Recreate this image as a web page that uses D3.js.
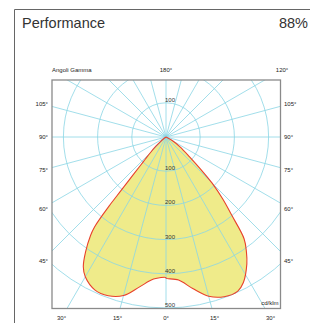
<!DOCTYPE html>
<html>
<head>
<meta charset="utf-8">
<script src="https://cdn.jsdelivr.net/npm/d3@7"></script>
<style>
  body { margin: 0; background: #fff; }
  svg { display: block; font-family: "Liberation Sans", Arial, sans-serif; }
</style>
</head>
<body>
<div id="chart"></div>
<script>
// polar data, gamma angle (deg from nadir) -> cd/klm
var gammaLeft = [0, 5, 10, 15, 20, 25, 30, 32.5, 35, 37.5, 38.5, 39.5, 40, 41, 42, 43, 45, 47.5, 50, 55, 90];
var cdLeft    = [411, 417, 445, 480, 494, 493, 472, 450, 410, 362, 335, 262, 205, 145, 112, 90, 64, 40, 22, 4, 0];
var gammaRight = [0, 5, 10, 15, 20, 25, 28, 32.5, 35, 37.5, 40, 42.5, 45, 47.5, 50, 55, 60, 70, 90];
var cdRight    = [413, 420, 450, 482, 497, 497, 482, 440, 410, 375, 300, 245, 190, 130, 90, 50, 22, 0, 0];

var rings = [100, 200, 300, 400, 500];
var ringLabelsBelow = [100, 200, 300, 400, 500];
var ringLabelsAbove = [100];
var leftGammaLabels = [15, 30, 45, 60, 75, 90, 105];
var rightGammaLabels = [0, 15, 30, 45, 60, 75, 90, 105, 120, 180];

var svgWidth = 310, svgHeight = 323;
var cx = 166, cy = 137;

var svg = d3.select("#chart").append("svg")
  .attr("width", svgWidth)
  .attr("height", svgHeight);

// outer frame
svg.append("path")
  .attr("d", "M14.5,323V9.5H310")
  .attr("fill", "none")
  .attr("stroke", "#666")
  .attr("stroke-width", 1);

svg.append("text")
  .attr("x", 22).attr("y", 28)
  .attr("font-size", 14.5)
  .attr("fill", "#333")
  .text("Performance");

svg.append("text")
  .attr("x", 308).attr("y", 28)
  .attr("text-anchor", "end")
  .attr("font-size", 14.5)
  .attr("fill", "#333")
  .text("88%");

var r = d3.scaleLinear().domain([0, 500]).range([0, 171]);

var box = { left: cx - 114, right: cx + 114.5, top: cy - 57, bottom: cy + r(500) + 0.5 };

svg.append("clipPath").attr("id", "plotClip")
  .append("rect")
  .attr("x", box.left).attr("y", box.top)
  .attr("width", box.right - box.left).attr("height", box.bottom - box.top);

svg.append("rect")
  .attr("x", box.left).attr("y", box.top)
  .attr("width", box.right - box.left).attr("height", box.bottom - box.top)
  .attr("fill", "#fff");

var plot = svg.append("g")
  .attr("clip-path", "url(#plotClip)");

var center = plot.append("g")
  .attr("transform", `translate(${cx},${cy})`);

// curve: left half from 90 down to 0, then right half 0 up to 90
var rad = Math.PI / 180;
var pts = [];
for (var i = gammaLeft.length - 1; i >= 0; i--) {
  pts.push({ a: Math.PI + gammaLeft[i] * rad, v: cdLeft[i] });
}
for (var j = 0; j < gammaRight.length; j++) {
  pts.push({ a: Math.PI - gammaRight[j] * rad, v: cdRight[j] });
}

var radial = d3.lineRadial()
  .angle(d => d.a)
  .radius(d => r(d.v))
  .curve(d3.curveCatmullRom.alpha(0.5));

center.append("path")
  .attr("d", radial(pts) + "Z")
  .attr("fill", "#efeb8a")
  .attr("stroke", "none");

// grid
var gridColor = "#8ad5e4";
center.selectAll(".ring")
  .data(rings)
  .enter()
  .append("circle")
  .attr("r", d => r(d))
  .attr("fill", "none")
  .attr("stroke", gridColor)
  .attr("stroke-width", 0.8);

center.selectAll(".spoke")
  .data(d3.range(0, 360, 15))
  .enter()
  .append("line")
  .attr("x1", 0).attr("y1", 0)
  .attr("x2", d => 400 * Math.sin(d * rad))
  .attr("y2", d => 400 * Math.cos(d * rad))
  .attr("stroke", gridColor)
  .attr("stroke-width", 0.8);

center.append("path")
  .attr("d", radial(pts))
  .attr("fill", "none")
  .attr("stroke", "#e8412c")
  .attr("stroke-width", 1.1);

// ring labels
center.selectAll(".rl")
  .data(ringLabelsBelow)
  .enter()
  .append("text")
  .attr("x", -1)
  .attr("y", d => r(d) - 1)
  .attr("font-size", 6)
  .attr("fill", "#333")
  .text(d => d);

center.selectAll(".rla")
  .data(ringLabelsAbove)
  .enter()
  .append("text")
  .attr("x", -1)
  .attr("y", d => -r(d) - 1.3)
  .attr("font-size", 6)
  .attr("fill", "#333")
  .text(d => d);

svg.append("rect")
  .attr("x", box.left).attr("y", box.top)
  .attr("width", box.right - box.left).attr("height", box.bottom - box.top)
  .attr("fill", "none")
  .attr("stroke", "#8a8a8a")
  .attr("stroke-width", 1.3);

// gamma labels along each spoke, placed just outside the box
var labelRect = { side: 124, top: -67, bottom: 181 };
function labelPos(g, sign) {
  var sx = Math.sin(g * rad) * sign, sy = Math.cos(g * rad);
  var t = Infinity;
  if (Math.abs(sx) > 1e-6) t = Math.min(t, labelRect.side / Math.abs(sx));
  if (sy > 1e-6) t = Math.min(t, labelRect.bottom / sy);
  if (sy < -1e-6) t = Math.min(t, labelRect.top / sy);
  return { x: cx + sx * t, y: cy + sy * t, onSide: Math.abs(Math.abs(sx * t) - labelRect.side) < 0.5 };
}

var labels = svg.append("g")
  .attr("font-size", 6)
  .attr("fill", "#222");

function addGamma(g, sign) {
  var p = labelPos(g, sign);
  var t = labels.append("text")
    .attr("y", p.y + 2)
    .text(g + "°");
  if (p.onSide) {
    t.attr("x", sign < 0 ? p.x + 6 : p.x - 6)
      .attr("text-anchor", sign < 0 ? "end" : "start");
  } else {
    t.attr("x", p.x).attr("text-anchor", "middle");
  }
}
leftGammaLabels.forEach(g => addGamma(g, -1));
rightGammaLabels.forEach(g => addGamma(g, 1));

labels.append("text")
  .attr("x", box.left).attr("y", cy - 65)
  .text("Angoli Gamma");

center.append("text")
  .attr("x", box.right - cx - 2).attr("y", r(500) - 3)
  .attr("text-anchor", "end")
  .attr("font-size", 6)
  .attr("fill", "#222")
  .text("cd/klm");
</script>
</body>
</html>
